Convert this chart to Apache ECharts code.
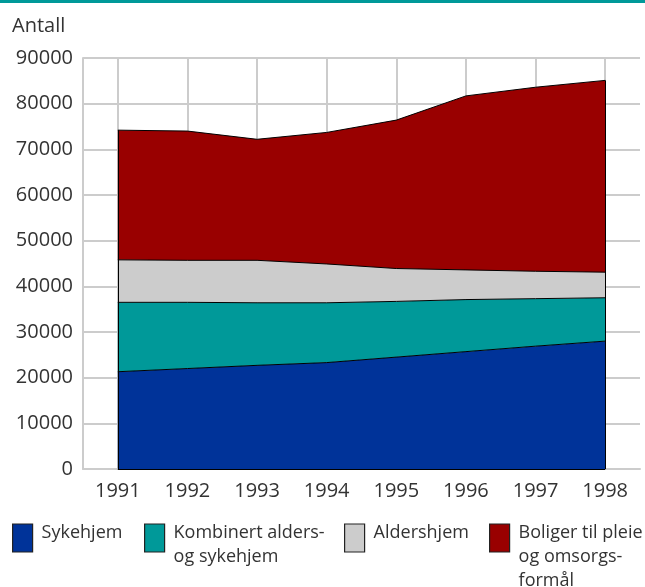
<!DOCTYPE html>
<html>
<head>
<meta charset="utf-8">
<script src="https://cdn.jsdelivr.net/npm/echarts@6/dist/echarts.min.js"></script>
<style>
  html, body { margin: 0; padding: 0; background: #fff; }
  #chart { width: 645px; height: 587px; }
</style>
</head>
<body>
<div id="chart"></div>
<script>
const years = ['1991', '1992', '1993', '1994', '1995', '1996', '1997', '1998']
const sykehjem = [21300, 22000, 22700, 23300, 24500, 25700, 26900, 28000]
const kombinert = [15200, 14500, 13700, 13100, 12200, 11400, 10400, 9500]
const aldershjem = [9300, 9200, 9300, 8500, 7200, 6500, 6000, 5600]
const boliger = [28400, 28300, 26500, 28800, 32500, 38100, 40300, 42000]
const yTicks = [0, 90000, 10000] // min, max, step

const names = ['Sykehjem', 'Kombinert alders-og sykehjem', 'Aldershjem', 'Boliger til pleie og omsorgsformål']
const labels = {
  'Sykehjem': ['Sykehjem'],
  'Kombinert alders-og sykehjem': ['Kombinert alders-', 'og sykehjem'],
  'Aldershjem': ['Aldershjem'],
  'Boliger til pleie og omsorgsformål': ['Boliger til pleie', 'og omsorgs-', 'formål'],
}
const colors = ['#003399', '#009999', '#cccccc', '#990000']
const values = [sykehjem, kombinert, aldershjem, boliger]

const font = 'Open Sans'
const textColor = '#333'
const gridColor = '#cccccc'

// stacked total, used for the black end edges of the area block
const totals = years.map((_, i) => values.reduce((s, arr) => s + arr[i], 0))
const first = years[0]
const last = years[years.length - 1]

const LINE_H = 24
const ICON_TOP = 524
const ICON_H = 28

function legendAt(name, left) {
  // legend text is centred on the icon; add an empty spacer line (above or below)
  // so the real text hangs from the icon top
  const lines = labels[name]
  const iconMid = ICON_TOP + ICON_H / 2
  const textTop = ICON_TOP - 3
  const h = LINE_H * lines.length
  const spacer = 2 * (textTop - iconMid) + h // >0: spacer above, <0: spacer below
  const sp = Math.abs(spacer)
  let text = lines.join('\n')
  if (spacer > 0) text = '{s| }\n' + text
  else if (spacer < 0) text = text + '\n{s| }'
  const boxH = h + sp
  const top = Math.min(ICON_TOP, iconMid - boxH / 2)
  return {
    data: [name],
    left: left,
    top: top,
    padding: 0,
    orient: 'horizontal',
    icon: 'rect',
    itemWidth: 20,
    itemHeight: ICON_H,
    selectedMode: false,
    itemStyle: { borderColor: '#222', borderWidth: 1.2 },
    formatter: () => text,
    textStyle: {
      fontFamily: font,
      fontSize: 18,
      lineHeight: LINE_H,
      color: textColor,
      padding: [0, 0, 0, 4],
      rich: { s: { fontSize: 1, lineHeight: sp, height: sp } },
    },
  }
}

const chart = echarts.init(document.getElementById('chart'))

chart.setOption({
  animation: false,
  backgroundColor: '#fff',
  title: {
    text: 'Antall',
    left: 7,
    top: 11,
    textStyle: { fontFamily: font, fontSize: 20, fontWeight: 'normal', color: textColor },
  },
  graphic: [
    { type: 'rect', left: 0, top: 0, shape: { width: 645, height: 3 }, style: { fill: '#009999' } },
  ],
  legend: [
    legendAt(names[0], 12),
    legendAt(names[1], 144),
    legendAt(names[2], 344),
    legendAt(names[3], 489),
  ],
  grid: { left: 83, right: 5, top: 58, bottom: 118, containLabel: false },
  xAxis: {
    type: 'category',
    data: years,
    boundaryGap: true,
    axisLine: { lineStyle: { color: gridColor, width: 2 } },
    axisTick: { show: false },
    axisLabel: { fontFamily: font, fontSize: 20, color: textColor, margin: 12 },
    splitLine: { show: true, alignWithLabel: true, lineStyle: { color: gridColor, width: 2 } },
  },
  yAxis: {
    type: 'value',
    min: yTicks[0],
    max: yTicks[1],
    interval: yTicks[2],
    axisLine: { show: true, lineStyle: { color: gridColor, width: 2 } },
    axisTick: { show: false },
    axisLabel: {
      fontFamily: font,
      fontSize: 20,
      color: textColor,
      margin: 10,
      formatter: (v) => String(v),
    },
    splitLine: { show: true, lineStyle: { color: gridColor, width: 2 } },
  },
  series: names.map((name, i) => {
    const s = {
      name: name,
      type: 'line',
      stack: 'total',
      data: values[i],
      symbol: 'none',
      color: colors[i],
      itemStyle: { color: colors[i] },
      lineStyle: { color: '#000', width: 1 },
      areaStyle: { color: colors[i], opacity: 1 },
      z: 3,
    }
    if (i === 0) {
      s.markLine = {
        silent: true,
        symbol: 'none',
        label: { show: false },
        lineStyle: { color: '#000', width: 1, type: 'solid' },
        data: [
          [{ coord: [first, 0] }, { coord: [first, totals[0]] }],
          [{ coord: [last, 0] }, { coord: [last, totals[totals.length - 1]] }],
          [{ coord: [first, 0] }, { coord: [last, 0] }],
        ],
      }
    }
    return s
  }),
})
</script>
</body>
</html>
